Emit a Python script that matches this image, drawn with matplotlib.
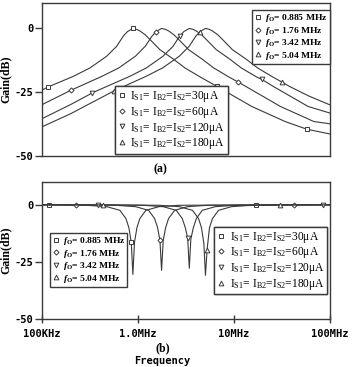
import matplotlib
matplotlib.use('Agg')
import matplotlib.pyplot as plt
from matplotlib.lines import Line2D

plt.rcParams['mathtext.fontset'] = 'custom'
plt.rcParams['mathtext.rm'] = 'Liberation Serif'
plt.rcParams['mathtext.it'] = 'Liberation Serif:italic:bold'
plt.rcParams['mathtext.bf'] = 'Liberation Serif:bold'

# (a) band-pass responses, frequency in MHz, gain in dB
tf1 = [0.1, 0.115, 0.212, 0.316, 0.472, 0.600, 0.703, 0.78, 0.885, 0.96, 1.05, 1.19, 1.33, 1.69, 2.33,
       3.09, 4.43, 6.61, 15.3, 34.0, 57.1, 100]
tg1 = [-24.2, -23.0, -18.8, -15.5, -10.9, -7.0, -3.0, -1.2, 0.0, -0.3, -1.0, -2.5, -4.3, -8.3, -12.0,
       -15.5, -19.0, -22.7, -30.6, -36.5, -39.5, -41.4]
tf2 = [0.1, 0.199, 0.42, 0.63, 0.94, 1.19, 1.40, 1.55, 1.76, 1.91, 2.09, 2.37, 2.65, 3.36, 4.64,
       6.15, 8.8, 11.0, 13.2, 30.4, 67.7, 100]
tg2 = [-29.9, -24.3, -18.8, -15.5, -10.9, -7.0, -3.0, -1.2, 0.0, -0.3, -1.0, -2.5, -4.3, -8.3, -12.0,
       -15.5, -19.0, -21.0, -22.7, -30.6, -36.5, -37.4]
tf3 = [0.1, 0.2, 0.334, 0.386, 0.82, 1.22, 1.82, 2.32, 2.71, 3.01, 3.42, 3.71, 4.05, 4.60, 5.13,
       6.52, 9.0, 11.9, 17.1, 19.5, 25.5, 59, 100]
tg3 = [-35.4, -29.8, -25.3, -24.2, -18.8, -15.5, -10.9, -7.0, -3.0, -1.2, 0.0, -0.3, -1.0, -2.5, -4.3,
       -8.3, -12.0, -15.5, -19.0, -20.0, -22.7, -30.6, -33.2]
tf4 = [0.1, 0.2, 0.3, 0.569, 1.21, 1.80, 2.69, 3.41, 4.0, 4.44, 5.04, 5.47, 5.97, 6.78, 7.57,
       9.6, 13.3, 17.6, 25.2, 31.4, 37.6, 60, 100]
tg4 = [-38.6, -33.4, -29.9, -24.4, -18.8, -15.5, -10.9, -7.0, -3.0, -1.2, 0.0, -0.3, -1.0, -2.5, -4.3,
       -8.3, -12.0, -15.5, -19.0, -21.0, -22.7, -26.5, -30.0]

# (b) notch responses
bf1 = [0.1, 0.119, 0.294, 0.474, 0.648, 0.749, 0.804, 0.851, 0.885, 0.920, 0.975, 1.047, 1.209, 1.651, 2.66, 17.0, 100]
bg1 = [0, 0, -0.2, -0.8, -2.4, -6.0, -10.0, -16.4, -30.5, -16.4, -10.0, -6.0, -2.4, -0.8, -0.2, 0, 0]
bf2 = [0.1, 0.226, 0.585, 0.943, 1.29, 1.49, 1.60, 1.693, 1.76, 1.83, 1.94, 2.08, 2.41, 3.28, 5.29, 42.0, 100]
bg2 = [0, 0, -0.2, -0.8, -2.4, -6.0, -10.0, -15.6, -28.7, -15.6, -10.0, -6.0, -2.4, -0.8, -0.2, 0, 0]
bf3 = [0.1, 0.383, 1.136, 1.83, 2.50, 2.89, 3.11, 3.29, 3.42, 3.55, 3.77, 4.05, 4.67, 6.38, 10.3, 85.0, 100]
bg3 = [0, 0, -0.2, -0.8, -2.4, -6.0, -10.0, -14.6, -27.8, -15.0, -10.0, -6.0, -2.4, -0.8, -0.2, 0, 0]
bf4 = [0.1, 0.435, 1.674, 2.70, 3.69, 4.27, 4.58, 4.85, 5.04, 5.24, 5.55, 5.96, 6.89, 9.40, 15.1, 30.0, 100]
bg4 = [0, 0, -0.2, -0.8, -2.4, -6.0, -10.0, -17.0, -30.9, -19.6, -10.0, -6.0, -2.4, -0.8, -0.2, 0, 0]

f0_labels = ['0.885 MHz', '1.76 MHz', '3.42 MHz', '5.04 MHz']
bias_labels = ['30\u03bcA', '60\u03bcA', '120\u03bcA', '180\u03bcA']
x_ticks = [1e5, 1e6, 1e7, 1e8]
x_ticklabels = ['100KHz', '1.0MHz', '10MHz', '100MHz']
y_ticks = [0, -25, -50]

markers = ['s', 'D', 'v', '^']
msizes = [3.2, 2.6, 3.4, 3.4]
top_mark = [[1, 8, 17, 20], [1, 7, 17], [2, 8, 19], [3, 9, 19]]
bot_mark = [[1, 7, 15], [1, 7, 15], [1, 7, 15], [1, 9, 15]]
lc = '#3a3a3a'

fig = plt.figure(figsize=(3.55, 3.67), dpi=100)
ax1 = fig.add_axes([0.118, 0.575, 0.812, 0.417])
ax2 = fig.add_axes([0.118, 0.131, 0.812, 0.373])

top = [(tf1, tg1), (tf2, tg2), (tf3, tg3), (tf4, tg4)]
bot = [(bf1, bg1), (bf2, bg2), (bf3, bg3), (bf4, bg4)]
for i in range(4):
    f, g = top[i]
    ax1.plot([v * 1e6 for v in f], g, color=lc, lw=0.8, marker=markers[i], ms=msizes[i],
             mfc='white', mec=lc, mew=0.7, markevery=top_mark[i])
    f, g = bot[i]
    ax2.plot([v * 1e6 for v in f], g, color=lc, lw=0.8, marker=markers[i], ms=msizes[i],
             mfc='white', mec=lc, mew=0.7, markevery=bot_mark[i])

tick_font = dict(family='DejaVu Sans Mono', weight='bold', size=7.5)
for ax in (ax1, ax2):
    ax.set_xscale('log')
    ax.set_xlim(1e5, 1e8)
    ax.set_ylim(-50, 10)
    ax.set_yticks(y_ticks)
    ax.set_yticklabels([str(v) for v in y_ticks], fontdict=tick_font)
    ax.minorticks_off()
    ax.tick_params(axis='y', direction='out', length=5, width=1, pad=1, color=lc)
    for s in ax.spines.values():
        s.set_color(lc)
        s.set_linewidth(1)
    ax.set_ylabel('Gain(dB)', family='Liberation Serif', weight='bold', size=8.5, labelpad=2)

ax1.set_xticks(x_ticks)
ax1.tick_params(axis='x', bottom=False, labelbottom=False)
ax2.set_xticks(x_ticks)
ax2.set_xticklabels(x_ticklabels, fontdict=tick_font)
ax2.tick_params(axis='x', direction='inout', length=6, width=1, pad=4, color=lc)

handles = [Line2D([], [], ls='none', marker=markers[i], ms=msizes[i], mfc='white', mec=lc, mew=0.7)
           for i in range(4)]
f0_text = [r'$\mathit{f}_{\mathbf{O}}$= ' + s for s in f0_labels]
bias_text = [r'I$_{\mathrm{S1}}$= I$_{\mathrm{B2}}$=I$_{\mathrm{S2}}$=' + s for s in bias_labels]

leg_kw = dict(frameon=True, fancybox=False, handlelength=0.8, handletextpad=0.3,
              borderpad=0.25, borderaxespad=0, framealpha=1)


def add_legend(ax, texts, anchor, loc, prop, spacing):
    leg = ax.legend(handles, texts, loc=loc, bbox_to_anchor=anchor, prop=prop,
                    labelspacing=spacing, **leg_kw)
    leg.get_frame().set_edgecolor(lc)
    leg.get_frame().set_linewidth(1)
    ax.add_artist(leg)


f0_prop = dict(family='Liberation Serif', weight='bold', size=6.8)
bias_prop = dict(family='Liberation Serif', size=8.3)
add_legend(ax1, f0_text, (0.729, 0.954), 'upper left', f0_prop, 0.05)
add_legend(ax1, bias_text, (0.253, 0.013), 'lower left', bias_prop, 0.05)
add_legend(ax2, f0_text, (0.028, 0.628), 'upper left', f0_prop, 0.05)
add_legend(ax2, bias_text, (0.597, 0.672), 'upper left', bias_prop, 0.05)

fig.text(160 / 355, 1 - 169 / 367, '(a)', family='Liberation Serif', weight='bold', size=8.5,
         ha='center', va='center')
fig.text(163 / 355, 1 - 348 / 367, '(b)', family='Liberation Serif', weight='bold', size=8.5,
         ha='center', va='center')
fig.text(162 / 355, 1 - 366 / 367, 'Frequency', family='DejaVu Sans Mono', weight='bold', size=7.5,
         ha='center', va='bottom')

fig.savefig('out.png', dpi=100)
